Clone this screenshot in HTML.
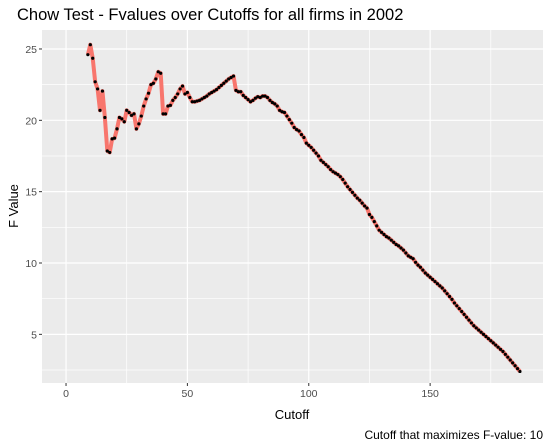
<!DOCTYPE html>
<html><head><meta charset="utf-8"><style>
body{margin:0;background:#fff;}
svg{display:block;font-family:"Liberation Sans",sans-serif;}
</style></head><body>
<svg id="chart" width="550" height="445">
<text x="17" y="20" font-size="16.5" fill="#000">Chow Test - Fvalues over Cutoffs for all firms in 2002</text>
<rect x="42" y="30" width="501" height="353" fill="#EBEBEB"/>
<g id="grid"></g>
<g id="series"></g>
<g id="axes"></g>
<text x="292" y="419" font-size="13" text-anchor="middle" fill="#000">Cutoff</text>
<text transform="translate(18,206) rotate(-90)" font-size="13" text-anchor="middle" fill="#000">F Value</text>
<text x="543" y="439" font-size="12" text-anchor="end" fill="#000">Cutoff that maximizes F-value: 10</text>
</svg>
<script>
const cutoffs = [];
for (let c = 9; c <= 187; c++) cutoffs.push(c);
const fvalues = [24.6,25.3,24.35,22.7,22.2,20.7,22.05,20.2,17.85,17.75,18.7,18.75,19.4,20.2,20.1,19.9,20.7,20.55,20.35,20.45,19.4,19.75,20.3,21.0,21.5,21.9,22.5,22.6,22.9,23.4,23.3,20.45,20.45,21.0,21.05,21.4,21.6,21.85,22.2,22.4,21.85,21.95,
21.6,21.3,21.3,21.35,21.4,21.5,21.6,21.7,21.85,21.95,22.05,22.15,22.3,22.45,22.6,22.75,22.9,23.0,23.1,22.1,22.0,22.0,21.75,21.6,21.45,21.3,21.4,21.55,21.65,21.6,21.7,21.7,21.6,21.4,21.25,21.15,21.0,20.7,20.6,20.55,20.3,20.05,19.8,19.5,19.35,19.25,19.0,18.8,18.4,18.25,18.1,17.9,17.7,17.5,17.2,17.05,16.9,16.75,16.55,16.4,16.3,16.2,16.05,15.85,15.6,15.35,15.15,14.95,14.75,14.55,14.4,14.2,14.0,13.85,13.4,13.2,12.9,12.6,12.3,12.15,12.0,11.85,11.75,11.6,11.45,11.3,11.2,11.05,10.9,10.7,10.5,10.4,10.3,10.05,9.85,9.7,9.5,9.3,9.15,9.0,8.85,8.7,8.55,8.4,8.25,8.05,7.85,7.65,7.45,7.2,7.0,6.8,6.6,6.4,6.2,6.0,5.8,5.6,5.45,5.3,5.15,5.0,4.85,4.7,4.55,4.4,4.25,4.1,3.95,3.8,3.6,3.4,3.2,3.0,2.8,2.6,2.4];
const xTicks = [0,50,100,150];
const xTickLabels = ["0","50","100","150"];
const yTicks = [5,10,15,20,25];
const yTickLabels = ["5","10","15","20","25"];

const NS = "http://www.w3.org/2000/svg";
const xMin = -9.9, xMax = 196.5, yMin = 1.59, yMax = 26.33;
const L = 42, T = 30, W = 501, H = 353;
function sx(v){ return L + (v - xMin) / (xMax - xMin) * W; }
function sy(v){ return T + H - (v - yMin) / (yMax - yMin) * H; }
function mk(tag, attrs, parent){ const e = document.createElementNS(NS, tag); for (const k in attrs) e.setAttribute(k, attrs[k]); parent.appendChild(e); return e; }

const grid = document.getElementById('grid');
const minorX = xTicks.map(t => t + 25).concat([xTicks[0] - 25]);
minorX.forEach(m => {
  if (sx(m) > L && sx(m) < L + W) {
    const g = mk('line', {x1:sx(m),x2:sx(m),y1:T,y2:T+H,stroke:'#fff','stroke-width':0.7}, grid);
    
    
  }
});
const minorY = yTicks.map(t => t - 2.5).concat([yTicks[yTicks.length-1] + 2.5]);
minorY.forEach(m => {
  if (sy(m) < T + H && sy(m) > T) {
    const g = mk('line', {x1:L,x2:L+W,y1:sy(m),y2:sy(m),stroke:'#fff','stroke-width':0.7}, grid);
    
    
  }
});
const axes = document.getElementById('axes');
xTicks.forEach((t, i) => {
  const g = mk('line', {x1:sx(t),x2:sx(t),y1:T,y2:T+H,stroke:'#fff','stroke-width':1.2}, grid);
  
  
  const tk = mk('line', {x1:sx(t),x2:sx(t),y1:T+H,y2:T+H+3,stroke:'#333','stroke-width':1}, axes);
  
  
  const tx = mk('text', {x:sx(t),y:T+H+14,'font-size':10.5,'text-anchor':'middle',fill:'#4D4D4D'}, axes);
  tx.textContent = xTickLabels[i];
  
  
});
yTicks.forEach((t, i) => {
  const g = mk('line', {x1:L,x2:L+W,y1:sy(t),y2:sy(t),stroke:'#fff','stroke-width':1.2}, grid);
  
  
  const tk = mk('line', {x1:L-3,x2:L,y1:sy(t),y2:sy(t),stroke:'#333','stroke-width':1}, axes);
  
  
  const tx = mk('text', {x:L-5,y:sy(t)+4,'font-size':10.5,'text-anchor':'end',fill:'#4D4D4D'}, axes);
  tx.textContent = yTickLabels[i];
  
  
});
const series = document.getElementById('series');
const d = cutoffs.map((c, i) => (i ? 'L' : 'M') + sx(c).toFixed(2) + ',' + sy(fvalues[i]).toFixed(2)).join('');
const line = mk('path', {d:d, fill:'none', stroke:'#F8766D','stroke-width':4,'stroke-linejoin':'round'}, series);


cutoffs.forEach((c, i) => {
  const p = mk('circle', {cx:sx(c), cy:sy(fvalues[i]), r:1.6, fill:'#000'}, series);
  
  
});
</script>
</body></html>
